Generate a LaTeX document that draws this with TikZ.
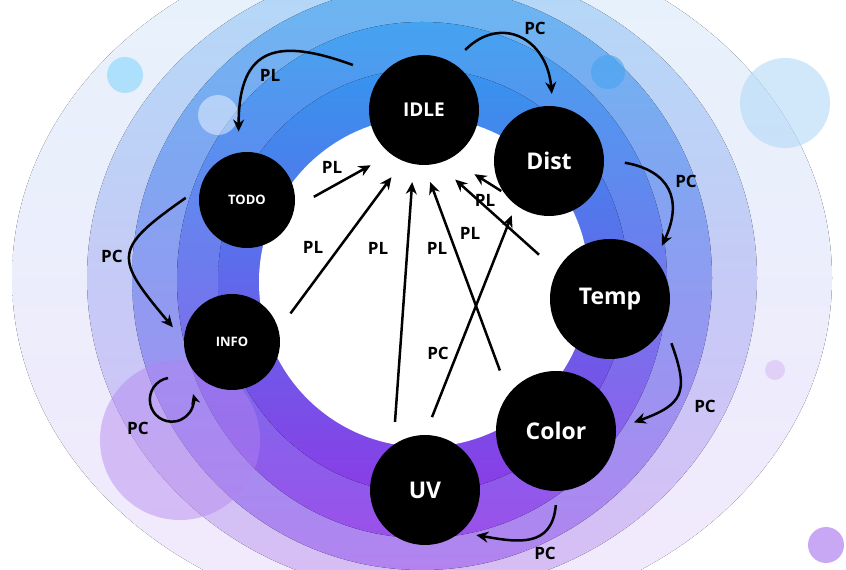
\documentclass[tikz,border=0pt]{standalone}
\usepackage{fontspec}
\setmainfont{Open Sans}
\usepackage{xcolor}
\usetikzlibrary{arrows.meta,positioning}
\definecolor{outerA}{HTML}{E6F2FC}
\definecolor{outerB}{HTML}{F2E9FC}
\definecolor{midA}{HTML}{B3D9F7}
\definecolor{midB}{HTML}{D8BDF5}
\definecolor{bandA}{HTML}{6AB6F1}
\definecolor{bandB}{HTML}{B283F0}
\definecolor{deepA}{HTML}{45A3F0}
\definecolor{deepB}{HTML}{9A50EA}
\definecolor{coreA}{HTML}{3794EE}
\definecolor{coreB}{HTML}{8A3DE6}

\begin{document}
\begin{tikzpicture}
    [x=1pt, y=1pt, font=\bfseries,
     state/.style={circle, fill=black, text=white, inner sep=0pt},
     pl/.style={-{Stealth[length=12pt, width=11pt]}, line width=2.5pt},
     lbl/.style={font=\bfseries\fontsize{17}{17}\selectfont, inner sep=0pt}]
    \useasboundingbox (0,0) rectangle (846,570);
    \fill[white] (0,0) rectangle (846,570);
    \fill[top color=outerA, bottom color=outerB] (422,292) ellipse [x radius=410, y radius=345];
    \fill[top color=midA, bottom color=midB] (422,292) ellipse [x radius=335, y radius=315];
    \fill[top color=bandA, bottom color=bandB] (422,292) ellipse [x radius=290, y radius=292];
    \fill[top color=deepA, bottom color=deepB] (422,290) ellipse [x radius=245, y radius=258];
    \fill[top color=coreA, bottom color=coreB] (423,289) ellipse [x radius=205, y radius=212];
    \fill[white] (424,288) circle [radius=165];
    \fill[bandB, opacity=0.45] (180,130) circle [radius=80];
    \fill[blue!30!cyan, opacity=0.25] (125,495) circle [radius=18];
    \fill[white, opacity=0.45] (218,455) circle [radius=20];
    \fill[deepA, opacity=0.6] (608,498) circle [radius=17];
    \fill[midA, opacity=0.6] (785,467) circle [radius=45];
    \fill[bandB, opacity=0.7] (826,25) circle [radius=18];
    \fill[midB, opacity=0.6] (775,200) circle [radius=10];

    \node[state, minimum size=110pt, font=\bfseries\fontsize{19}{19}\selectfont] (idle) at (424,460) {IDLE};
    \node[state, minimum size=110pt, font=\bfseries\fontsize{23}{23}\selectfont] (dist) at (549,409) {Dist};
    \node[state, minimum size=120pt, font=\bfseries\fontsize{23}{23}\selectfont] (temp) at (610,271) {Temp};
    \node[state, minimum size=120pt, font=\bfseries\fontsize{23}{23}\selectfont] (color) at (556,139) {Color};
    \node[state, minimum size=110pt, font=\bfseries\fontsize{23}{23}\selectfont] (uv) at (425,80) {UV};
    \node[state, minimum size=96pt, font=\bfseries\fontsize{13}{13}\selectfont] (info) at (232,228) {INFO};
    \node[state, minimum size=96pt, font=\bfseries\fontsize{13}{13}\selectfont] (todo) at (247,370) {TODO};

    \draw[pl, shorten <=30pt, shorten >=21pt] (idle.141) to[out=160, in=90, looseness=1.7] (todo.100);
    \draw[pl, shorten <=18pt, shorten >=12pt] (idle.59) to[out=45, in=95, looseness=1.6] (dist.86);
    \draw[pl, shorten <=21pt, shorten >=15pt] (dist.2) to[out=-10, in=65, looseness=1.5] (temp.41);
    \draw[pl, shorten <=20pt, shorten >=19pt] (temp.-25) to[out=-70, in=20, looseness=1.6] (color.2);
    \draw[pl, shorten <=14pt, shorten >=16pt] (color.-89) to[out=-95, in=-10, looseness=1.4] (uv.-50);
    \draw[pl, shorten <=18pt, shorten >=17pt] (todo.165) to[out=215, in=130, looseness=1.8] (info.178);
    \draw[pl, -{Stealth[length=10pt, width=9pt]}] (info.center) ++(-64,-36) arc[start angle=100, end angle=375, radius=22];

    \draw[pl, shorten <=22pt, shorten >=23pt] (todo.-9) -- (idle.233);
    \draw[pl, shorten <=20pt, shorten >=20pt] (info.15) -- (idle.248);
    \draw[pl, shorten <=23pt, shorten >=18pt] (uv.125) -- (idle.259);
    \draw[pl, shorten <=25pt, shorten >=18pt] (color.142) -- (idle.270);
    \draw[pl, shorten <=24pt, shorten >=24pt] (temp.152) -- (idle.284);
    \draw[pl, shorten <=3pt, shorten >=29pt] (dist.215) -- (idle.298);
    \draw[pl, shorten <=19pt, shorten >=11pt] (uv.90) -- (dist.233);

    \node[lbl] (pl-idle-todo) at (270,495) {PL};
    \node[lbl] (pc-idle-dist) at (535,542) {PC};
    \node[lbl] (pc-dist-temp) at (686,389) {PC};
    \node[lbl] (pc-temp-color) at (705,164) {PC};
    \node[lbl] (pc-color-uv) at (545,17) {PC};
    \node[lbl] (pc-todo-info) at (112,314) {PC};
    \node[lbl] (pc-info-info) at (138,142) {PC};
    \node[lbl] (pl-todo-idle) at (332,403) {PL};
    \node[lbl] (pl-info-idle) at (313,323) {PL};
    \node[lbl] (pl-uv-idle) at (378,322) {PL};
    \node[lbl] (pl-color-idle) at (437,322) {PL};
    \node[lbl] (pl-temp-idle) at (470,337) {PL};
    \node[lbl] (pl-dist-idle) at (485,370) {PL};
    \node[lbl] (pc-uv-dist) at (438,217) {PC};
\end{tikzpicture}
\end{document}
